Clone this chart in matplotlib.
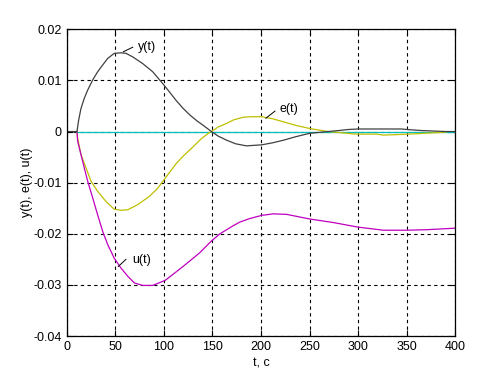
import matplotlib
matplotlib.use('Agg')
import matplotlib.pyplot as plt

plt.rcParams['font.family'] = ['Liberation Sans', 'DejaVu Sans']

# опорный уровень (нулевая линия)
ref_t = [10, 400]
ref_v = [0, 0]

# y(t)
y_t = [0, 10.6, 12.3, 14.7, 18.1, 21.6, 26.8, 31.9, 37, 42.2, 49, 55.9, 61, 68, 78.2,
       88.5, 98.8, 106, 113, 120, 127, 134, 140.6, 149, 156, 164.7, 174, 185, 200.7,
       212, 223, 236, 250, 269, 280, 290, 300, 345, 350, 365, 390, 400]
y_v = [0, 0, 0.0022, 0.0045, 0.0065, 0.0081, 0.0101, 0.0117, 0.0130, 0.0143, 0.0153,
       0.0154, 0.0153, 0.0146, 0.0133, 0.0117, 0.0094, 0.0077, 0.0060, 0.0045, 0.0032,
       0.0021, 0.0012, 0.0, -0.0009, -0.0017, -0.0024, -0.0028, -0.0026, -0.0022,
       -0.0017, -0.0010, -0.00035, 0.0, 0.0002, 0.0004, 0.0005, 0.0005, 0.0004,
       0.0002, 0.0, 0.0]

# e(t)
e_t = [10.6, 11.3, 14.7, 19.9, 25, 31.9, 40.5, 49, 55.9, 62.8, 73.1, 85, 93.7, 101.5,
       113, 121, 130, 138, 146, 149, 156, 164.7, 172, 181.8, 190, 200.7, 212, 223,
       236, 250, 269, 281, 297, 319, 326, 353, 372, 391]
e_v = [0, -0.0013, -0.0045, -0.0071, -0.0097, -0.0117, -0.0137, -0.0152, -0.0154,
       -0.0153, -0.0143, -0.0127, -0.0111, -0.0091, -0.0062, -0.0046, -0.0030,
       -0.0015, -0.0003, 0.0, 0.0009, 0.0016, 0.0023, 0.0028, 0.0029, 0.0029, 0.0025,
       0.0019, 0.0012, 0.0006, 0.0, -0.0002, -0.0005, -0.0005, -0.0007, -0.0005,
       -0.0003, -0.0001]

# u(t)
u_t = [10.6, 11.3, 14.7, 18.1, 21.6, 26.8, 31.9, 37, 42.2, 49, 55.9, 62.8, 69.6, 78.2,
       88.5, 101.5, 113, 121, 130, 137, 149, 157.8, 171.5, 178.4, 188.7, 200.7, 212.7,
       226.4, 250, 274.4, 300, 326, 350, 370.6, 400]
u_v = [0, -0.0019, -0.0045, -0.0071, -0.0097, -0.0130, -0.0163, -0.0195, -0.0221,
       -0.0248, -0.0267, -0.0283, -0.0296, -0.0301, -0.0301, -0.0291, -0.0274,
       -0.0262, -0.0248, -0.0237, -0.0214, -0.0200, -0.0184, -0.0177, -0.0170,
       -0.0164, -0.0161, -0.0162, -0.0171, -0.0178, -0.0187, -0.0193, -0.0193,
       -0.0192, -0.0189]

x_ticks = [0, 50, 100, 150, 200, 250, 300, 350, 400]
y_ticks = [-0.04, -0.03, -0.02, -0.01, 0, 0.01, 0.02]
y_labels = ['-0.04', '-0.03', '-0.02', '-0.01', '0', '0.01', '0.02']

fig = plt.figure(figsize=(5.04, 3.78), dpi=100)
ax = fig.add_axes([0.1323, 0.111, 0.7711, 0.8115])

ax.plot(ref_t, ref_v, color='#00bfbf', lw=0.9)
ax.plot(e_t, e_v, color='#bfbf00', lw=0.9)
ax.plot(u_t, u_v, color='#bf00bf', lw=0.9)
ax.plot(y_t, y_v, color='#404040', lw=0.9)

ax.set_xlim(0, 400)
ax.set_ylim(-0.04, 0.02)
ax.set_xticks(x_ticks)
ax.set_yticks(y_ticks)
ax.set_yticklabels(y_labels)
ax.tick_params(direction='in', labelsize=9, length=4, width=0.8, top=True, right=True,
               colors='black')
ax.grid(True, color='black', linestyle=(0, (3, 3)), lw=0.8)
for s in ax.spines.values():
    s.set_linewidth(0.9)

ax.set_xlabel('t, c', fontsize=9, labelpad=3)
ax.set_ylabel('y(t), e(t), u(t)', fontsize=9, labelpad=0)

# подписи кривых
ax.plot([58.3, 68], [0.0156, 0.0165], color='black', lw=0.7)
ax.text(73, 0.0166, 'y(t)', fontsize=9, va='center')
ax.plot([205, 214.4], [0.0026, 0.0040], color='black', lw=0.7)
ax.text(219, 0.0045, 'e(t)', fontsize=9, va='center')
ax.plot([53.1, 61], [-0.0264, -0.0250], color='black', lw=0.7)
ax.text(67, -0.0251, 'u(t)', fontsize=9, va='center')

fig.savefig('out.png', dpi=100)
